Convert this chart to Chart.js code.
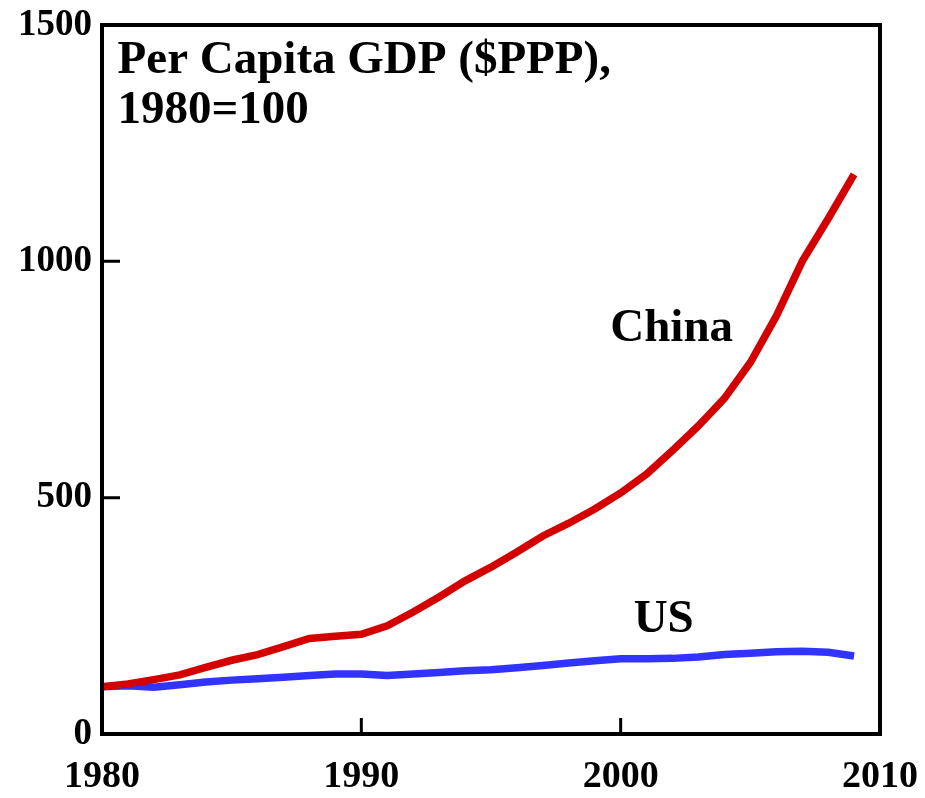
<!DOCTYPE html>
<html>
<head>
<meta charset="utf-8">
<script src="https://cdn.jsdelivr.net/npm/chart.js@4"></script>
<style>
  html, body { margin: 0; padding: 0; background: #fff; }
  #wrap { width: 925px; height: 798px; }
</style>
</head>
<body>
<div id="wrap"><canvas id="gdpChart"></canvas></div>
<script>
const years = [1980, 1981, 1982, 1983, 1984, 1985, 1986, 1987, 1988, 1989,
               1990, 1991, 1992, 1993, 1994, 1995, 1996, 1997, 1998, 1999,
               2000, 2001, 2002, 2003, 2004, 2005, 2006, 2007, 2008, 2009];
const chinaValues = [100, 106, 115, 125, 141, 156, 168, 185, 202, 207,
                     211, 229, 258, 290, 324, 353, 385, 419, 446, 476,
                     510, 550, 600, 652, 710, 786, 884, 1000, 1090, 1184];
const usValues = [100, 102, 99, 104, 110, 114, 117, 120, 124, 127,
                  127, 124, 127, 130, 134, 136, 140, 145, 150, 155,
                  159, 159, 160, 163, 168, 171, 174, 175, 173, 165];
const xTicks = [1980, 1990, 2000, 2010];
const yTicks = [0, 500, 1000, 1500];
const titleLines = ['Per Capita GDP ($PPP),', '1980=100'];

const FONT = '"Liberation Serif", "Times New Roman", serif';

function toPoints(values) {
    return values.map((v, i) => ({ x: years[i], y: v }));
}

// frame, inward tick marks and the text labels
const framePlugin = {
    id: 'frame',
    afterDatasetsDraw(chart) {
        const ctx = chart.ctx;
        const a = chart.chartArea;
        const xs = chart.scales.x;
        const ys = chart.scales.y;
        ctx.save();
        ctx.strokeStyle = '#000';
        ctx.lineWidth = 4;
        ctx.strokeRect(a.left, a.top, a.right - a.left, a.bottom - a.top);

        ctx.lineWidth = 3;
        ctx.beginPath();
        [1990, 2000].forEach(v => {
            const px = xs.getPixelForValue(v);
            ctx.moveTo(px, a.bottom);
            ctx.lineTo(px, a.bottom - 16);
        });
        [500, 1000].forEach(v => {
            const py = ys.getPixelForValue(v);
            ctx.moveTo(a.left, py);
            ctx.lineTo(a.left + 18, py);
        });
        ctx.stroke();

        ctx.fillStyle = '#000';
        ctx.font = 'bold 47px ' + FONT;
        ctx.textBaseline = 'alphabetic';
        ctx.textAlign = 'left';
        ctx.fillText(titleLines[0], xs.getPixelForValue(1980.6), ys.getPixelForValue(1399));
        ctx.fillText(titleLines[1], xs.getPixelForValue(1980.6), ys.getPixelForValue(1293));
        ctx.fillText('China', xs.getPixelForValue(1999.6), ys.getPixelForValue(831));
        ctx.fillText('US', xs.getPixelForValue(2000.5), ys.getPixelForValue(216));
        ctx.restore();
    }
};

new Chart(document.getElementById('gdpChart').getContext('2d'), {
    type: 'line',
    data: {
        datasets: [
            {
                label: 'China',
                data: toPoints(chinaValues),
                borderColor: '#d40000',
                borderWidth: 7.5,
                pointRadius: 0,
                tension: 0,
                fill: false
            },
            {
                label: 'US',
                data: toPoints(usValues),
                borderColor: '#3333ff',
                borderWidth: 7.5,
                pointRadius: 0,
                tension: 0,
                fill: false
            }
        ]
    },
    options: {
        responsive: true,
        maintainAspectRatio: false,
        animation: false,
        layout: { padding: { top: 25, right: 45, left: 0, bottom: 0 } },
        plugins: {
            legend: { display: false },
            tooltip: { enabled: false }
        },
        scales: {
            x: {
                type: 'linear',
                min: 1980,
                max: 2010,
                afterBuildTicks: s => { s.ticks = xTicks.map(v => ({ value: v })); },
                afterFit: s => {
                    s.height = 64;
                    s.paddingLeft = 0;
                    s.paddingRight = 0;
                },
                grid: { display: false, drawTicks: false },
                border: { display: false },
                ticks: {
                    color: '#000',
                    padding: 20,
                    maxRotation: 0,
                    font: { family: FONT, size: 38, weight: 'bold' },
                    callback: v => String(v)
                }
            },
            y: {
                min: 0,
                max: 1500,
                afterBuildTicks: s => { s.ticks = yTicks.map(v => ({ value: v })); },
                afterFit: s => {
                    s.width = 102;
                    s.paddingTop = 0;
                    s.paddingBottom = 0;
                },
                grid: { display: false, drawTicks: false },
                border: { display: false },
                ticks: {
                    color: '#000',
                    padding: 10,
                    font: { family: FONT, size: 37, weight: 'bold' },
                    callback: v => String(v)
                }
            }
        }
    },
    plugins: [framePlugin]
});
</script>
</body>
</html>
